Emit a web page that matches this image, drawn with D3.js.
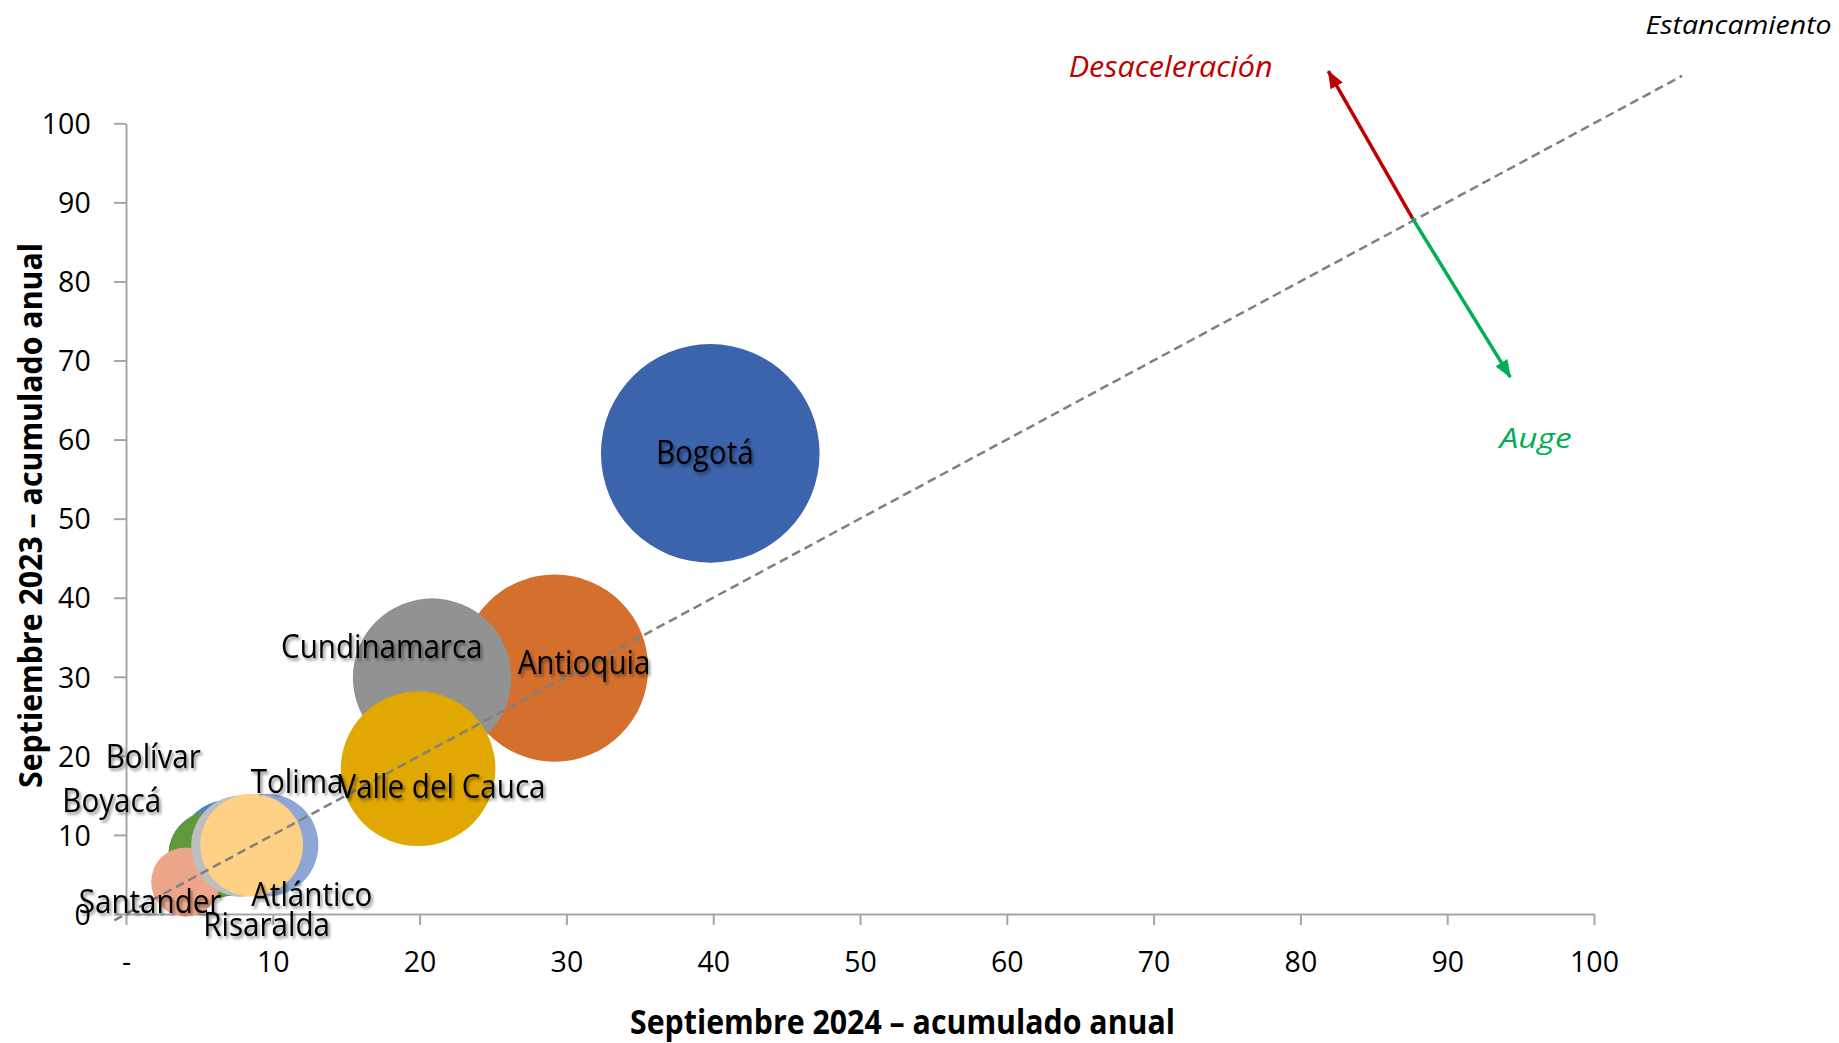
<!DOCTYPE html>
<html><head><meta charset="utf-8">
<script src="https://cdn.jsdelivr.net/npm/d3@7"></script>
<style>
html,body{margin:0;padding:0;background:#fff;}
svg{display:block;font-family:"Open Sans","Noto Sans",sans-serif;}
</style>
</head><body>
<svg id="chart" width="1839" height="1043"></svg>
<script>
// ---------------- data ----------------
const departments = ["Bogotá","Antioquia","Cundinamarca","Valle del Cauca","Bolívar","Boyacá","Santander","Risaralda","Atlántico","Tolima"];
const sept2024 = [39.8, 29.2, 20.85, 19.9, 6.95, 5.86, 4.06, 7.90, 9.61, 8.56];
const sept2023 = [58.25, 31.1, 29.9, 18.36, 8.34, 7.46, 4.05, 8.60, 8.72, 8.72];
const bubbleSize = [23.6, 17.3, 12.4, 11.8, 4.55, 3.8, 2.35, 5.1, 5.2, 5.2];
const xTicks = [0,10,20,30,40,50,60,70,80,90,100];
const xTickLabels = ["-","10","20","30","40","50","60","70","80","90","100"];
const yTicks = [0,10,20,30,40,50,60,70,80,90,100];
const yTickLabels = ["0","10","20","30","40","50","60","70","80","90","100"];
const diagonalEnds = [-0.8, 106];
const arrowOrigin = [87.65, 87.95];
const arrowDesaceleracion = [81.9, 106.6];
const arrowAuge = [94.3, 67.9];
const xTitle = "Septiembre 2024 – acumulado anual";
const yTitle = "Septiembre 2023 – acumulado anual";

// ---------------- styles / layout ----------------
const colors = ["#3B64AD","#D46F2D","#929292","#E0A800","#4D85C5","#5E9A3C","#EEA68A","#BEBEBE","#8EA6D6","#FFD185"];
const labelOffsets = {
  "Bogotá":[-5.5,10.8], "Antioquia":[29.4,5.6], "Cundinamarca":[-50.3,-19.2], "Valle del Cauca":[23.9,29.5],
  "Bolívar":[-74.7,-80.3], "Boyacá":[-100.3,-43.3], "Santander":[-35.5,31.3], "Risaralda":[24.7,90],
  "Atlántico":[44.7,61], "Tolima":[45.4,-51.7]
};
const svg = d3.select("#chart");
const x = d3.scaleLinear().domain([0,100]).range([126,1594]);
const y = d3.scaleLinear().domain([0,100]).range([914,123.3]);
const r = d3.scaleSqrt().domain([0, 23.6]).range([0, 109.3]);
const axisColor = "#A6A6A6";

const defs = svg.append("defs");
const f = defs.append("filter").attr("id","shadow").attr("x","-20%").attr("y","-40%").attr("width","140%").attr("height","180%");
f.append("feDropShadow").attr("dx",2).attr("dy",2.5).attr("stdDeviation",1.6).attr("flood-color","#000").attr("flood-opacity",0.45);

function marker(id, color){
  defs.append("marker").attr("id",id).attr("markerUnits","userSpaceOnUse")
    .attr("viewBox","0 0 18 14").attr("refX",17).attr("refY",7)
    .attr("markerWidth",18).attr("markerHeight",14).attr("orient","auto")
    .append("path").attr("d","M0,0 L18,7 L0,14 Z").attr("fill",color);
}
marker("arrRed","#C00000");
marker("arrGreen","#00B050");

function condense(sel, k){
  sel.each(function(){
    const w = this.getComputedTextLength();
    d3.select(this).attr("textLength", w*k).attr("lengthAdjust","spacingAndGlyphs");
  });
}
function fitWidth(sel, w){
  sel.attr("textLength", w).attr("lengthAdjust","spacingAndGlyphs");
}

// ---------------- axes ----------------
const yAxis = d3.axisLeft(y).tickValues(yTicks).tickFormat((d,i)=>yTickLabels[i]).tickSize(12).tickSizeOuter(0);
const gy = svg.append("g").attr("transform",`translate(${x(0)},0)`).call(yAxis);
const xAxis = d3.axisBottom(x).tickValues(xTicks).tickFormat((d,i)=>xTickLabels[i]).tickSize(11).tickSizeOuter(0);
const gx = svg.append("g").attr("transform",`translate(0,${y(0)})`).call(xAxis);
[gx, gy].forEach(g=>{
  g.select(".domain").attr("stroke",axisColor).attr("stroke-width",2);
  g.selectAll(".tick line").attr("stroke",axisColor).attr("stroke-width",2);
  g.selectAll(".tick text").attr("fill","#000").attr("font-size",28.5).attr("font-family","'Open Sans','Noto Sans',sans-serif");
});
gy.selectAll(".tick text").attr("x",-35.3).attr("dy","0.36em");
gx.selectAll(".tick text").attr("y",58).attr("dy",0);

// axis titles
fitWidth(svg.append("text").attr("x",902.5).attr("y",1034).attr("text-anchor","middle")
  .attr("font-size",34).attr("font-weight",700).text(xTitle), 545);
fitWidth(svg.append("text").attr("transform","translate(42,515.5) rotate(-90)").attr("text-anchor","middle")
  .attr("font-size",33).attr("font-weight",700).text(yTitle), 545);

// ---------------- bubbles ----------------
const data = departments.map((d,i)=>({name:d, x:sept2024[i], y:sept2023[i], s:bubbleSize[i], c:colors[i]}));
svg.append("g").selectAll("circle").data(data).join("circle")
  .attr("cx",d=>x(d.x)).attr("cy",d=>y(d.y)).attr("r",d=>r(d.s)).attr("fill",d=>d.c);

// diagonal
svg.append("line")
  .attr("x1",x(diagonalEnds[0])).attr("y1",y(diagonalEnds[0]))
  .attr("x2",x(diagonalEnds[1])).attr("y2",y(diagonalEnds[1]))
  .attr("stroke","#808080").attr("stroke-width",2.5).attr("stroke-dasharray","9,5");

// labels
const labels = svg.append("g").attr("filter","url(#shadow)").selectAll("text").data(data).join("text")
  .attr("x",d=>x(d.x)+labelOffsets[d.name][0]).attr("y",d=>y(d.y)+labelOffsets[d.name][1])
  .attr("text-anchor","middle").attr("font-size",32.5).attr("fill","#000").text(d=>d.name);
condense(labels, 0.91);

// arrows
svg.append("line").attr("x1",x(arrowOrigin[0])).attr("y1",y(arrowOrigin[1]))
  .attr("x2",x(arrowDesaceleracion[0])).attr("y2",y(arrowDesaceleracion[1]))
  .attr("stroke","#C00000").attr("stroke-width",3.5).attr("marker-end","url(#arrRed)");
svg.append("line").attr("x1",x(arrowOrigin[0])).attr("y1",y(arrowOrigin[1]))
  .attr("x2",x(arrowAuge[0])).attr("y2",y(arrowAuge[1]))
  .attr("stroke","#00B050").attr("stroke-width",3.5).attr("marker-end","url(#arrGreen)");

// annotations
fitWidth(svg.append("text").attr("x",1645.6).attr("y",34.3).attr("font-size",26).attr("font-style","italic")
  .attr("fill","#000").text("Estancamiento"), 186);
fitWidth(svg.append("text").attr("x",1068.7).attr("y",76.7).attr("font-size",29).attr("font-style","italic")
  .attr("fill","#C00000").text("Desaceleración"), 204);
fitWidth(svg.append("text").attr("x",1499.6).attr("y",448).attr("font-size",28).attr("font-style","italic")
  .attr("fill","#00B050").text("Auge"), 72);
</script>
</body></html>
